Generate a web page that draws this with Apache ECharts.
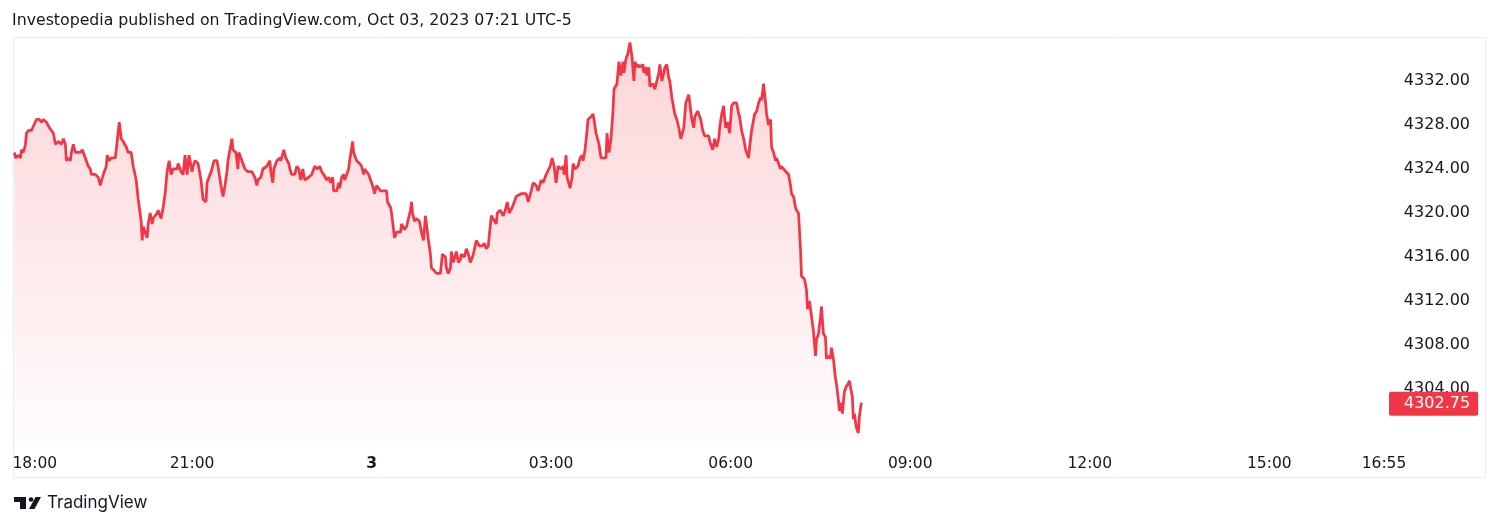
<!DOCTYPE html>
<html>
<head>
<meta charset="utf-8">
<script src="https://cdn.jsdelivr.net/npm/echarts@6/dist/echarts.min.js"></script>
<style>
  html, body { margin: 0; padding: 0; background: #ffffff; }
  #chart { width: 1500px; height: 527px; }
</style>
</head>
<body>
<div id="chart"></div>
<script>
// Minutes elapsed since 18:00 (Oct 2, exchange time UTC-5)
const minutes = [
  2,3,6,8,9,11,13,14,16,19,21,24,27,29,31,34,37,39,41,43,46,48,49,51,53,54,56,58,59,61,63,64,68,70,73,76,78,79,83,86,88,91,94,95,97,99,
  103,104,107,109,111,114,116,119,121,124,126,129,130,131,133,135,136,138,140,141,145,146,149,151,153,155,157,159,161,165,166,169,171,173,175,177,180,
  181,183,186,189,191,194,195,198,200,202,205,206,209,211,213,215,216,218,220,221,224,226,227,230,231,233,236,240,243,245,246,249,251,255,258,259,
  261,262,265,268,269,272,274,277,278,280,283,285,287,289,291,293,297,300,302,303,306,308,310,312,315,317,319,321,322,325,327,328,330,332,333,335,
  337,338,341,342,345,348,350,352,353,355,357,359,361,363,365,367,369,372,375,376,379,380,382,383,385,387,389,390,393,395,397,399,400,401,403,405,
  408,410,412,414,415,417,419,420,423,425,427,429,431,434,435,437,439,440,442,445,447,449,450,453,455,457,459,462,465,468,471,473,475,477,480,482,
  485,486,489,492,494,496,498,501,502,505,507,510,512,515,517,520,522,525,527,530,532,535,537,539,541,543,545,547,550,552,553,555,556,559,561,562,
  564,567,569,571,572,574,576,577,580,582,583,585,588,590,592,595,596,598,600,602,603,606,608,610,612,613,615,617,619,621,623,624,626,627,629,632,
  633,635,636,638,639,642,644,648,649,651,653,654,656,658,659,661,663,664,666,668,670,673,675,678,679,681,683,684,687,689,690,692,694,698,699,702,
  704,706,708,709,711,713,714,715,717,719,721,723,726,728,729,731,733,735,736,738,739,741,743,744,746,748,750,751,753,755,756,758,760,761,763,765,
  766,768,770,771,773,775,778,780,781,783,785,786,788,790,791,794,796,797,799,801,803,805,806,808,810,811,813,815,816,818,820,821,823,825,826,828,
  829,831,832,834,836,838,839,841,842,843,844,846,848,849,851
];
const prices = [
  4325.5,4325,4325.25,4325,4325.75,4325.5,4326.25,4327.25,4327.5,4327.5,4327.5,4328.5,4328.5,4328.25,4328.5,4328.25,4327.75,4327.5,4327.25,4326.25,4326.5,4326.5,4326.25,4326.75,4326.25,4324.75,4325,4324.75,4325.5,4326.25,4325.5,4325.5,4325.5,4325.75,4325,4324.25,4324,4323.5,4323.5,4323.25,4322.5,4323.5,4324.25,4325.25,4324.75,4325,
  4325,4325.75,4328.25,4326.75,4326.5,4326,4325.5,4325.5,4324.25,4323,4321.25,4319.25,4317.5,4318.75,4318.25,4317.75,4319,4320,4319,4319.5,4320,4320.25,4319.5,4320.5,4321.75,4323.75,4324.75,4323.5,4324,4324,4324.5,4323.75,4323.5,4325.25,4323.5,4325.25,4323.75,
  4324.25,4324.75,4324.5,4323,4321.25,4321,4322.75,4323.5,4324,4324.75,4324.75,4324.25,4322.5,4321.5,4322.5,4323.75,4324.75,4325.75,4326.75,4325.75,4325.5,4324,4325.5,4324.75,4324.5,4324,4323.75,4323.75,4323.25,4322.5,4323,4323.25,4324,4324.25,4324.75,4323.75,
  4322.75,4324,4324.75,4325,4324.75,4325.75,4325,4324.5,4324,4323.5,4323.5,4324.25,4324,4323,4324,4323,4323.25,4323.5,4324,4324.25,4324,4324.25,4323.75,4323.5,4323,4323.25,4322.75,4323.25,4322,4322,4322.75,4322.25,4323.25,4323.5,4323,4323.5,
  4324,4324.75,4326.5,4325.5,4324.75,4324.5,4324.25,4323.5,4324,4324,4323.5,4323,4322.5,4321.75,4322.5,4322.5,4322,4322,4322,4321,4320.5,4320,4318.5,4317.75,4318.25,4318.25,4318.25,4319,4318.5,4318.75,4319.5,4320.25,4321,4320,4319.25,4319.5,
  4319.25,4318.25,4317.5,4319.75,4319,4317.5,4316.25,4315,4314.75,4314.5,4314.5,4314.5,4316.25,4316,4315,4314.5,4315,4316.5,4315.5,4316.5,4315.5,4315.75,4316.25,4316,4316.75,4316.25,4315.5,4316.25,4317.5,4317,4317,4317.25,4316.75,4317,4319.75,4319.75,
  4319,4320,4320.25,4319.75,4320.25,4321,4320,4320.5,4320.75,4321.5,4321.5,4321.75,4321.75,4321.75,4321,4322,4322.75,4322.5,4322,4323,4322.75,4323.5,4323.5,4324.25,4325,4324.25,4322.75,4324.25,4324,4324.25,4323.5,4325.25,4323.25,4322.25,4323.25,4324.5,
  4324,4324.25,4325,4325.25,4324.75,4325.75,4327.5,4328.5,4328.75,4329,4328.5,4327.25,4326.25,4325,4325,4325,4327.25,4325.5,4326.75,4329.25,4331.25,4331.75,4333.75,4332.5,4333.75,4332.75,4334,4334.5,4335.5,4334.25,4332,4333.75,4333.25,4333.5,4333.25,4333.5,
  4332.75,4333.25,4332.5,4333.25,4331.5,4331.75,4331.25,4332.75,4333.5,4332,4332.75,4333.25,4333.5,4332.25,4332,4330.5,4329.5,4329,4328.5,4327.75,4326.75,4327.75,4330,4330.75,4330,4328.5,4327.75,4328.75,4329.25,4328.75,4328.5,4327.5,4327,4327,4326.5,4325.75,
  4326.75,4326,4326.75,4327.75,4329,4329.75,4328.5,4327.75,4328.25,4327.25,4329.75,4330,4330,4329,4328.75,4327.5,4326.75,4325.75,4325.5,4325,4326,4327.5,4327.5,4329,4329.25,4330,4330.5,4330.25,4331.75,4330,
  4329,4328,4328.5,4326,4325.5,4324.75,4325,4324.5,4324,4324.25,4324,4324,4323.5,4322.5,4321.75,4321.5,4320.5,4320.25,4320,4316.75,4314.25,4314,4313,4311.25,4312,4312,4309.25,4307,4308.5,4309,4310.5,4311.5,4309,4308.75,4306.75,4307,4306.75,4307.75,4306.75,4305,4304.5,4303,
  4302,4302.75,4301.75,4303.75,4304.25,4304.5,4304.75,4304.75,4303.25,4301.25,4301.75,4300.5,4300,4301.5,4302.75
];
const xTickMinutes = [0, 180, 360, 540, 720, 900, 1080, 1260, 1375];
const xTickLabels = ['18:00', '21:00', '3', '03:00', '06:00', '09:00', '12:00', '15:00', '16:55'];
const yTickValues = [4304, 4308, 4312, 4316, 4320, 4324, 4328, 4332];
const titleText = 'Investopedia published on TradingView.com, Oct 03, 2023 07:21 UTC-5';

const seriesData = minutes.map((m, i) => [m, prices[i]]);
const lastPrice = prices[prices.length - 1];
const FONT = '"DejaVu Sans", Inter, sans-serif';
const LOGO_FONT = 'Inter, "Noto Sans", sans-serif';
const TEXT = '#131722';
const RED = '#F23645';
const X_MAX = 1380;

const decorations = [
  { type: 'rect', shape: { x: 13.5, y: 37.5, width: 1472, height: 440 }, style: { fill: 'none', stroke: '#ebebeb', lineWidth: 1 }, silent: true, z: -1 },
  { type: 'polygon', shape: { points: [[14,497],[26,497],[26,509],[20,509],[20,502],[14,502]] }, style: { fill: TEXT }, silent: true },
  { type: 'circle', shape: { cx: 31, cy: 499.5, r: 2.3 }, style: { fill: TEXT }, silent: true },
  { type: 'polygon', shape: { points: [[29,509],[34.5,509],[41,497],[35.5,497]] }, style: { fill: TEXT }, silent: true },
  { type: 'text', x: 47, y: 503, style: { text: 'TradingView', font: '17px ' + LOGO_FONT, fill: TEXT, verticalAlign: 'middle' }, silent: true }
];

const chart = echarts.init(document.getElementById('chart'), null, { renderer: 'canvas' });
chart.setOption({
  animation: false,
  backgroundColor: '#ffffff',
  textStyle: { fontFamily: FONT },
  title: {
    text: titleText,
    left: 12, top: 13, padding: 0,
    textStyle: { fontFamily: FONT, fontSize: 15.75, fontWeight: 'normal', color: TEXT }
  },
  grid: { left: 12.5, right: 111, top: 38, bottom: 82, outerBoundsMode: 'none', containLabel: false },
  xAxis: {
    type: 'value',
    min: 0, max: X_MAX,
    axisLine: { show: false },
    axisTick: { show: false },
    splitLine: { show: false },
    axisLabel: {
      customValues: xTickMinutes,
      alignMinLabel: 'left',
      margin: 11,
      fontFamily: FONT, fontSize: 15.5, color: TEXT,
      formatter: (v) => {
        const i = xTickMinutes.indexOf(v);
        const t = i >= 0 ? xTickLabels[i] : '';
        return t === '3' ? '{b|' + t + '}' : t;
      },
      rich: { b: { fontWeight: 'bold', fontSize: 15.5, color: TEXT, fontFamily: FONT } }
    }
  },
  yAxis: {
    type: 'value',
    position: 'right',
    min: 4298.909, max: 4335.909,
    axisLine: { show: false },
    axisTick: { show: false },
    splitLine: { show: false },
    axisLabel: {
      customValues: yTickValues,
      align: 'right',
      margin: 81,
      padding: [4, 0, 0, 0],
      fontFamily: FONT, fontSize: 16, color: TEXT,
      formatter: (v) => v.toFixed(2)
    }
  },
  series: [{
    type: 'line',
    data: seriesData,
    showSymbol: false,
    symbol: 'none',
    lineStyle: { color: RED, width: 2.75 },
    areaStyle: {
      origin: 'start',
      color: new echarts.graphic.LinearGradient(0, 0, 0, 1, [
        { offset: 0, color: 'rgba(242,54,69,0.3)' },
        { offset: 1, color: 'rgba(242,54,69,0.02)' }
      ])
    },
    z: 3
  }],
  graphic: decorations
});

// Last-price tag on the price scale, placed through the chart's own scales
const tagPos = chart.convertToPixel({ gridIndex: 0 }, [X_MAX, lastPrice]);
chart.setOption({
  graphic: decorations.concat([{
    type: 'text', x: tagPos[0], y: tagPos[1] + 1, z: 100,
    style: {
      text: lastPrice.toFixed(2),
      font: '16px ' + FONT,
      fill: '#ffffff',
      backgroundColor: RED,
      borderRadius: 2,
      padding: [5, 8, 3, 15],
      align: 'left',
      verticalAlign: 'middle'
    },
    silent: true
  }])
});
</script>
</body>
</html>
